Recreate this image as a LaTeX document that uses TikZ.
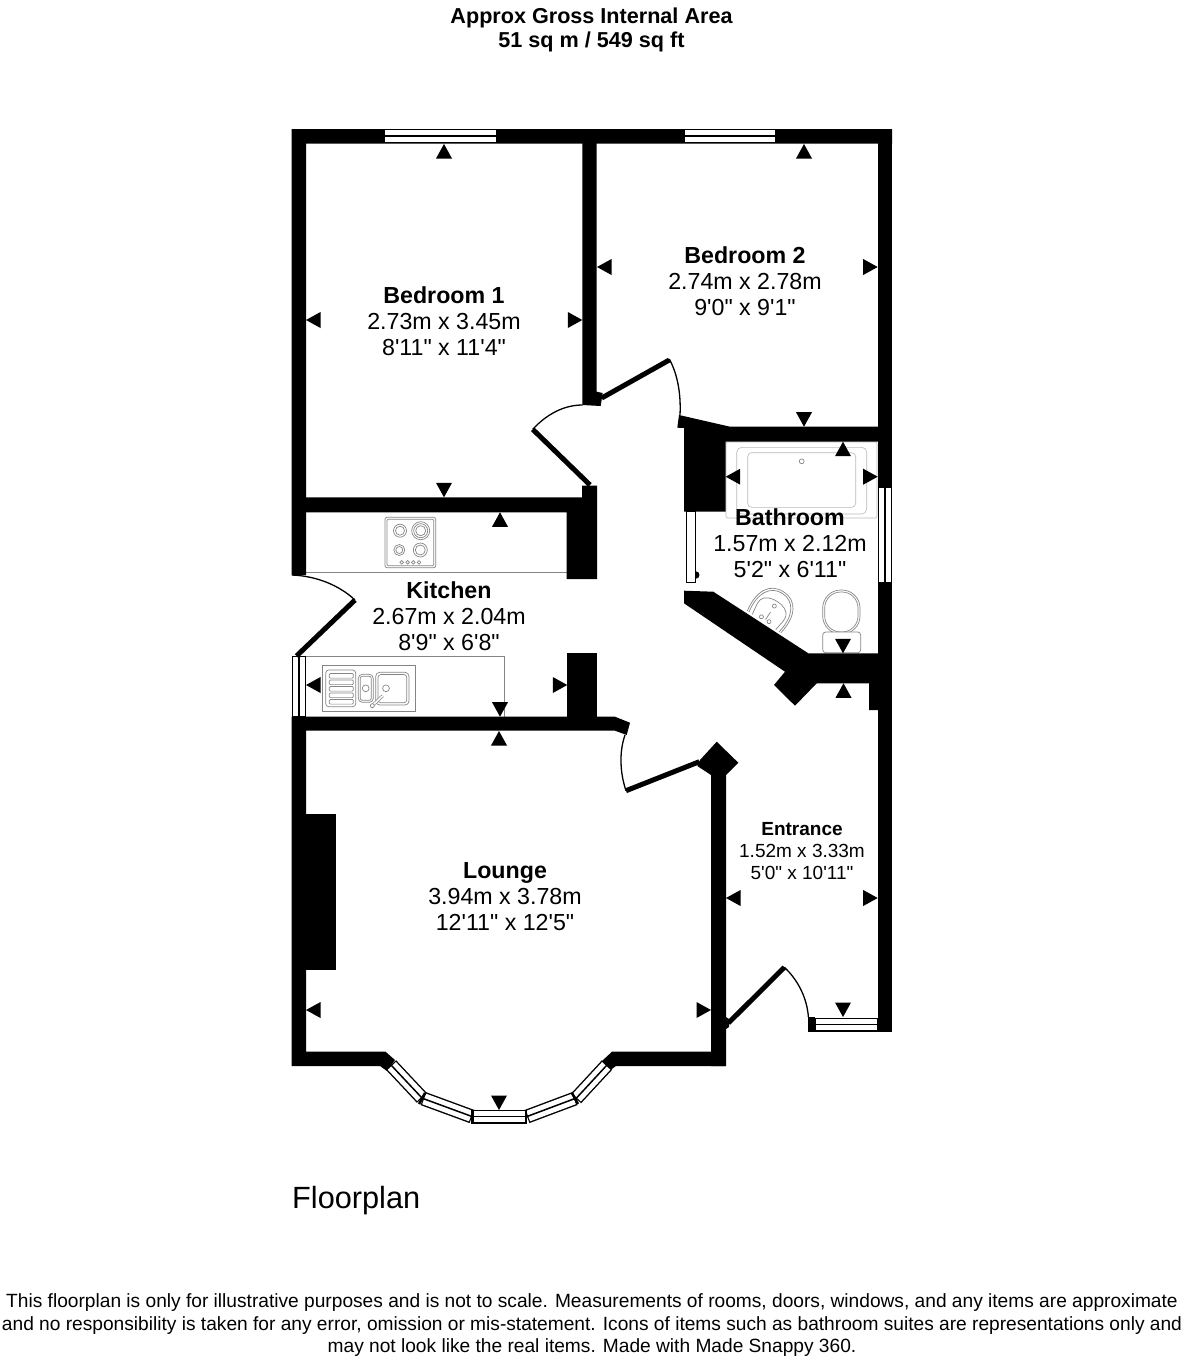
\documentclass[tikz,border=0pt]{standalone}
\usepackage{fontspec}
\usepackage{tikz}
\usetikzlibrary{positioning}
\newfontfamily\planfont{Liberation Sans}

% window pane between two points
\newcommand{\winpane}[2]{
    \draw[winframe] (#1) -- (#2);
    \draw[winglass] (#1) -- (#2);
    \draw[winbar] (#1) -- (#2);
}

\tikzset{
    wall/.style={fill=black},
    winframe/.style={line width=14pt, black},
    winglass/.style={line width=11.2pt, white, shorten <=1.2pt, shorten >=1.2pt},
    winbar/.style={line width=1.5pt, black},
    doorleaf/.style={line width=5pt, black},
    doorswing/.style={line width=1.3pt, black},
    fixture/.style={line width=0.7pt, black!48},
    fixturefaint/.style={line width=0.6pt, black!28},
    roomlabel/.style={align=center, font=\planfont\fontsize{23.2}{26}\selectfont},
    smalllabel/.style={align=center, font=\planfont\fontsize{19}{22}\selectfont},
    dimtick/.pic={\fill (0,0) -- (14.5,-8) -- (14.5,8) -- cycle;}
}

\begin{document}
\begin{tikzpicture}[x=1pt, y=-1pt, node distance=24pt, every node/.style={inner sep=0pt}]
    \useasboundingbox (0,0) rectangle (1184,1360);

    % Headings
    \node[font=\planfont\bfseries\fontsize{21.6}{24}\selectfont] (title) at (591.5,17.5) {Approx Gross Internal Area};
    \node[font=\planfont\bfseries\fontsize{21.6}{24}\selectfont] (areasize) [below of=title] {51 sq m / 549 sq ft};
    \node[font=\planfont\fontsize{30.7}{34}\selectfont, anchor=west] (plantitle) at (292,1201) {Floorplan};
    \node[font=\planfont\fontsize{19.15}{22.5}\selectfont, align=center] (disclaimer) at (592,1325.5) {This floorplan is only for illustrative purposes and is not to scale. Measurements of rooms, doors, windows, and any items are approximate\\and no responsibility is taken for any error, omission or mis-statement. Icons of items such as bathroom suites are representations only and\\may not look like the real items. Made with Made Snappy 360.};

    % Bath surround, bath and counters
    \draw[fixturefaint, rounded corners=2pt] (726,442) rectangle (877,518);
    \draw[fixturefaint, rounded corners=5pt] (736.7,447.3) rectangle (866.7,514);
    \draw[fixturefaint, rounded corners=4pt] (747.7,452.7) rectangle (855.7,507.3);
    \draw[fixture] (801.7,461.3) circle (2.4);
    \draw[fixture] (306,572.5) -- (567,572.5);
    \draw[fixture] (306,656) -- (504,656) -- (504,717);

    % Hob
    \draw[fixture, rounded corners=2pt] (385,517.3) rectangle (435.7,567.7);
    \draw[fixture, rounded corners=1pt] (387,519.3) rectangle (433.7,565.7);
    \foreach \x/\y/\r in {400/530.7/6.5, 400/530.7/4.5, 420.7/530.7/9, 420.7/530.7/7, 420.7/530.7/5, 399.3/550/5.5, 399.3/550/3.5, 420.3/550/7, 420.3/550/5}
        \draw[fixture] (\x,\y) circle (\r);
    \foreach \x in {401.7, 407.7, 413.3, 419}
        \draw[fixture] (\x,562.3) circle (1.8);

    % Sink
    \draw[fixture] (322.3,665.7) rectangle (415.3,711);
    \draw[fixture, rounded corners=3pt] (325.7,670) rectangle (355.7,706.7);
    \foreach \y in {673.5, 680, 686.5, 693, 699.5}
        \draw[fixture, rounded corners=1pt] (329.3,\y) rectangle (353.3,\y+4.6);
    \draw[fixture, rounded corners=4pt] (358.3,674.3) rectangle (373.3,702.3);
    \draw[fixture, rounded corners=2pt] (360.3,676.3) rectangle (371.3,700.3);
    \draw[fixture, rounded corners=4pt] (375.7,672.3) rectangle (409,705);
    \draw[fixture, rounded corners=3pt] (378,674.5) rectangle (406.8,702.8);
    \draw[fixture] (365.7,688.3) circle (3.4);
    \draw[fixture] (386,688.3) circle (3.4);
    \draw[fixture, line width=3pt] (372.3,705.7) -- (382.7,695.7);
    \draw[white, line width=1.6pt] (372.3,705.7) -- (382.7,695.7);
    \draw[fixture, fill=white] (372.3,705.7) circle (2);

    % Basin
    \begin{scope}[shift={(764,622)}, rotate=-33]
        \draw[fixture] (-20,0) .. controls (-24,-22) and (-16,-36) .. (0,-36) .. controls (16,-36) and (24,-22) .. (20,0);
        \draw[fixture] (-18,0) .. controls (-22,-21) and (-14,-34) .. (0,-34) .. controls (14,-34) and (22,-21) .. (18,0);
        \draw[fixture, rounded corners=3pt] (-14,0) -- (-16,-14) .. controls (-12,-27) and (12,-27) .. (16,-14) -- (14,0);
        \draw[fixture] (0,-19) circle (2);
        \draw[fixture] (-5,-3) circle (2);
        \draw[fixture] (4,-3) circle (2);
        \draw[fixture] (0,-3) -- (0,-12);
    \end{scope}

    % Toilet
    \draw[fixture, rounded corners=18pt] (822.7,590) rectangle (860,634);
    \draw[fixture, rounded corners=16pt] (824.7,592) rectangle (858,632);
    \draw[fixture, fill=white, rounded corners=3pt] (822.7,632) rectangle (860.7,652.7);

    % Walls
    \fill[wall] (291.5,129) -- (892,129) -- (892,143.5) -- (306,143.5) -- (306,497.3) -- (582,497.3) -- (582,485.7) -- (597,485.7) -- (597,579) -- (566.7,579) -- (566.7,512.3) -- (306,512.3) -- (306,575) -- (291.5,575) -- cycle;
    \fill[wall] (877.7,129) rectangle (892,1032);
    \fill[wall] (582.3,129) -- (596.7,129) -- (596.7,391.7) -- (602.7,393) -- (600.7,406) -- (582.3,405) -- cycle;
    \fill[wall] (567.3,653.3) rectangle (597,717);
    \fill[wall] (291.5,716.7) -- (615,716.7) -- (630,722.7) -- (626.7,735) -- (615,730.7) -- (306,730.7) -- (306,1051.7) -- (385.5,1051.7) -- (395,1060) -- (387,1071) -- (380,1066) -- (291.5,1066) -- cycle;
    \fill[wall] (306,814) rectangle (336,970);
    \fill[wall] (725.5,1051.7) -- (612,1051.7) -- (602,1061) -- (609,1071) -- (616,1066) -- (725.5,1066) -- cycle;
    \fill[wall] (711,775) -- (697.3,766) -- (700,760) -- (716.7,741.7) -- (738.3,762.7) -- (726,775) -- (726,1017) -- (729,1019) -- (729,1027) -- (726,1029) -- (726,1066) -- (711,1066) -- cycle;
    \fill[wall] (679,415) -- (730,426.7) -- (878,426.7) -- (878,441.7) -- (725.7,441.7) -- (725.7,511.7) -- (684,511.7) -- (684,428) -- (677.3,427.7) -- cycle;
    \fill[wall] (684,590.7) -- (713.3,591.7) -- (808.3,653.3) -- (878,653.3) -- (878,710) -- (869,710) -- (869,683.3) -- (816.7,683.3) -- (795,705.7) -- (774,685) -- (785,671.7) -- (684,603.3) -- cycle;
    \fill[wall] (808,1017) rectangle (815,1032);

    % Windows
    \winpane{383.3,136}{496.7,136}
    \winpane{684,136}{776,136}
    \winpane{885,486.7}{885,583.3}
    \winpane{299,655.7}{299,717}
    \winpane{815,1024.5}{878,1024.5}
    \winpane{391,1065}{422,1098}
    \winpane{423,1098.5}{472,1116.5}
    \winpane{473,1116.5}{526,1116.5}
    \winpane{527,1116.5}{575,1098.5}
    \winpane{576,1098.5}{607,1065}
    \foreach \xa/\ya/\xb/\yb in {425/1093/419/1104, 472.5/1110/472.5/1123.5, 526/1110/526/1123.5, 572/1093/578/1104}
        \draw[line width=2.5pt] (\xa,\ya) -- (\xb,\yb);

    % Doors
    \draw[doorleaf] (601.7,398) -- (669.3,360);
    \draw[doorswing] (669.3,359) .. controls (678,375) and (681,395) .. (680,415);
    \draw[doorleaf] (532.7,429.3) -- (590,485);
    \draw[doorswing] (582.5,405) .. controls (563,405) and (546,415) .. (532.7,429.3);
    \draw[doorleaf] (296.5,656) -- (355,600);
    \draw[doorswing] (292,575) .. controls (316,576) and (339,585) .. (355,600);
    \draw[doorleaf] (699.3,761.7) -- (626,790.7);
    \draw[doorswing] (625,735) .. controls (619,752) and (620,773) .. (626,790.7);
    \draw[doorleaf] (728.4,1023) -- (784.4,967.3);
    \draw[doorswing] (784.4,967.3) .. controls (798,980) and (807,998) .. (808.4,1017);
    \draw[fill=white, line width=0.8pt] (686.7,511.7) rectangle (695,582.3);
    \fill (695,571) .. controls (700.5,571) and (700.5,579) .. (695,579) -- cycle;

    % Dimension ticks
    \foreach \x/\y/\r in {444/144/-90, 306/320/0, 582.3/320/180, 444/497.3/90,
                          804/144/-90, 597/267/0, 877.7/267/180, 804/426.7/90,
                          843/441.7/-90, 725.7/476.7/0, 877.7/476.7/180, 843/653.3/90,
                          500/512.3/-90, 306/685/0, 567.3/685/180, 500/716.7/90,
                          499/731/-90, 306/1010/0, 711/1010/180, 499/1110/90,
                          843.5/683.3/-90, 726/898/0, 877.7/898/180, 843/1017/90}
        \pic[rotate=\r] at (\x,\y) {dimtick};

    % Room labels
    \node[roomlabel] (bedroomone) at (444,321) {\textbf{Bedroom 1}\\2.73m x 3.45m\\8'11" x 11'4"};
    \node[roomlabel] (bedroomtwo) at (745,281) {\textbf{Bedroom 2}\\2.74m x 2.78m\\9'0" x 9'1"};
    \node[roomlabel] (bathroom) at (790,543) {\textbf{Bathroom}\\1.57m x 2.12m\\5'2" x 6'11"};
    \node[roomlabel] (kitchen) at (449,616) {\textbf{Kitchen}\\2.67m x 2.04m\\8'9" x 6'8"};
    \node[roomlabel] (lounge) at (505,897) {\textbf{Lounge}\\3.94m x 3.78m\\12'11" x 12'5"};
    \node[smalllabel] (entrance) at (802,851) {\textbf{Entrance}\\1.52m x 3.33m\\5'0" x 10'11"};
\end{tikzpicture}
\end{document}
